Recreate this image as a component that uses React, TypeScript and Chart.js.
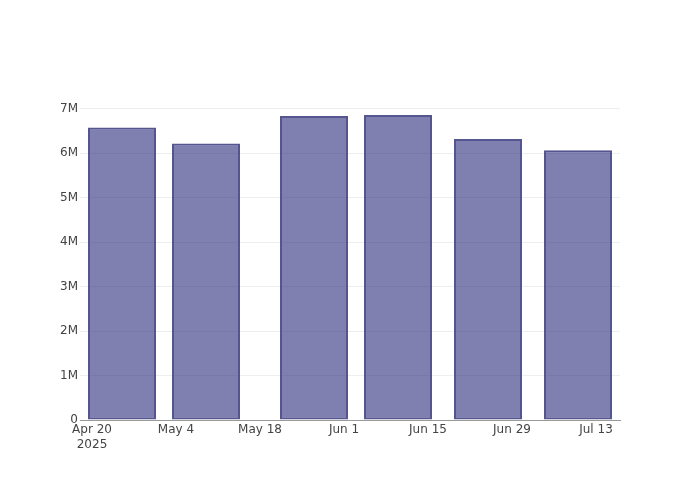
import React, { useEffect, useRef } from "react";
import { Chart, registerables } from "chart.js";

Chart.register(...registerables);

const barDates = ["2025-04-25", "2025-05-09", "2025-05-27", "2025-06-10", "2025-06-25", "2025-07-10"];
const barValues = [6580000, 6220000, 6840000, 6860000, 6320000, 6070000];
const xTickDates = ["2025-04-20", "2025-05-04", "2025-05-18", "2025-06-01", "2025-06-15", "2025-06-29", "2025-07-13"];
const xTickLabels: (string | string[])[] = [["Apr 20", "2025"], "May 4", "May 18", "Jun 1", "Jun 15", "Jun 29", "Jul 13"];
const yTicks = [0, 1000000, 2000000, 3000000, 4000000, 5000000, 6000000, 7000000];
const xRange = ["2025-04-18", "2025-07-17"];
const yMax = 7200000;

const BASE = Date.UTC(2025, 3, 20);
const dayOf = (s: string) => {
  const [y, m, d] = s.split("-").map(Number);
  return (Date.UTC(y, m - 1, d) - BASE) / 86400000;
};

export default function App() {
  const ref = useRef<HTMLCanvasElement | null>(null);
  useEffect(() => {
    if (!ref.current) return;
    const tickPos = xTickDates.map(dayOf);
    const chart = new Chart(ref.current, {
      type: "bar",
      data: {
        datasets: [
          {
            data: barDates.map((d, i) => ({ x: dayOf(d), y: barValues[i] })),
            backgroundColor: "rgba(43,43,123,0.6)",
            borderColor: "#55558f",
            borderWidth: 2,
            borderSkipped: false,
            barPercentage: 0.81,
            categoryPercentage: 1,
          },
        ],
      },
      options: {
        responsive: false,
        animation: false,
        layout: { padding: { top: 100, right: 80, left: 0, bottom: 0 } },
        plugins: { legend: { display: false }, tooltip: { enabled: false } },
        scales: {
          x: {
            type: "linear",
            offset: false,
            min: dayOf(xRange[0]),
            max: dayOf(xRange[1]),
            afterBuildTicks: (s: any) => {
              s.ticks = tickPos.map((v) => ({ value: v }));
            },
            afterFit: (s: any) => {
              s.height = 80;
            },
            ticks: {
              autoSkip: false,
              maxRotation: 0,
              padding: 3,
              color: "#444",
              font: { family: "DejaVu Sans", size: 12 },
              callback: (v: any) => {
                const i = tickPos.indexOf(Number(v));
                return i >= 0 ? xTickLabels[i] : "";
              },
            },
            grid: { display: false, drawTicks: false, offset: false },
            border: { display: true, color: "#999", width: 1 },
          },
          y: {
            min: 0,
            max: yMax,
            afterBuildTicks: (s: any) => {
              s.ticks = yTicks.map((v) => ({ value: v }));
            },
            afterFit: (s: any) => {
              s.width = 80;
            },
            ticks: {
              padding: 2,
              color: "#444",
              font: { family: "DejaVu Sans", size: 12 },
              callback: (v: any) => (Number(v) === 0 ? "0" : Number(v) / 1000000 + "M"),
            },
            grid: { color: "#eee", drawTicks: false, lineWidth: 1 },
            border: { display: false },
          },
        },
      },
    });
    return () => chart.destroy();
  }, []);
  return (
    <div style={{ position: "absolute", left: 0, top: 0, width: 700, height: 500, background: "#fff" }}>
      <canvas ref={ref} width={700} height={500} />
    </div>
  );
}
